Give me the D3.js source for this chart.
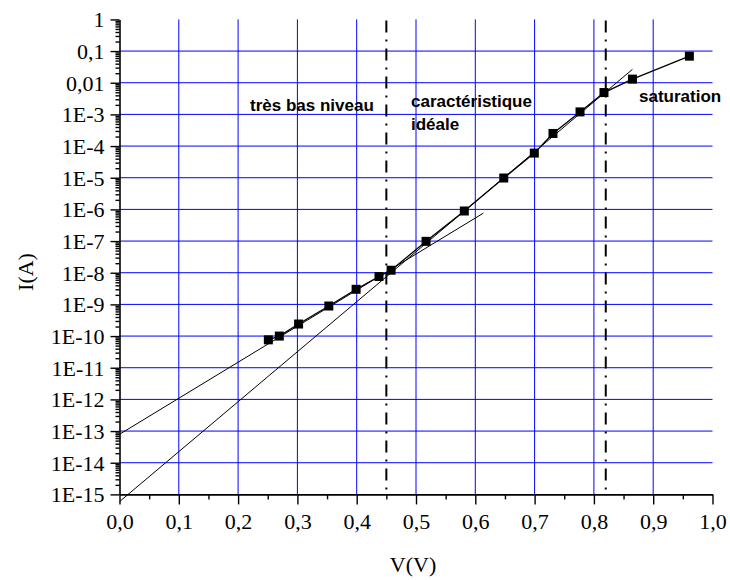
<!DOCTYPE html>
<html><head><meta charset="utf-8">
<script src="https://cdn.jsdelivr.net/npm/d3@7"></script>
<style>body{margin:0;background:#fff}svg{display:block}</style>
</head><body>
<svg id="chart" width="730" height="580"></svg>
<script>
// ---- data ----
const voltage = [0.251, 0.2695, 0.302, 0.353, 0.399, 0.4376, 0.458, 0.517, 0.5815, 0.648, 0.6995, 0.731, 0.7766, 0.817, 0.865, 0.961];
const current = [7.6e-11, 1.0e-10, 2.4e-10, 8.9e-10, 3.0e-9, 7.6e-9, 1.2e-8, 9.8e-8, 8.9e-7, 9.8e-6, 6.0e-5, 2.5e-4, 1.2e-3, 4.9e-3, 1.3e-2, 6.9e-2];
const fitLowV = [0, 0.6135];
const fitLowI = [7.9e-14, 7.6e-7];
const fitIdealV = [0, 0.865];
const fitIdealI = [5.9e-16, 2.65e-2];
const regionBounds = [0.45, 0.82];
const xTicks = [0,0.1,0.2,0.3,0.4,0.5,0.6,0.7,0.8,0.9,1.0];
const xTickLabels = ["0,0","0,1","0,2","0,3","0,4","0,5","0,6","0,7","0,8","0,9","1,0"];
const yTicks = [1,1e-1,1e-2,1e-3,1e-4,1e-5,1e-6,1e-7,1e-8,1e-9,1e-10,1e-11,1e-12,1e-13,1e-14,1e-15];
const yTickLabels = ["1","0,1","0,01","1E-3","1E-4","1E-5","1E-6","1E-7","1E-8","1E-9","1E-10","1E-11","1E-12","1E-13","1E-14","1E-15"];
const regionLabels = ["très bas niveau", "caractéristique", "idéale", "saturation"];
const xTitle = "V(V)", yTitle = "I(A)";

// ---- layout ----
const svg = d3.select("#chart");
const X0 = 119.5, X1 = 712.5, Y0 = 494.4, Y1 = 19.4;
const x = d3.scaleLinear().domain([0, 1]).range([X0, X1]);
const y = d3.scaleLog().domain([1e-15, 1]).range([Y0, Y1]);
const serif = "'Liberation Serif', 'Times New Roman', serif";
const sans = "'Liberation Sans', Arial, Helvetica, sans-serif";

// grid
const g = svg.append("g");
g.selectAll("line.h").data(yTicks.filter(d => d < 1 && d > 1e-15)).join("line")
  .attr("x1", X0).attr("x2", X1).attr("y1", d => y(d)).attr("y2", d => y(d))
  .attr("stroke", "#0000ff").attr("stroke-width", 1);
g.selectAll("line.v").data(xTicks.filter(d => d > 0 && d < 1)).join("line")
  .attr("x1", d => x(d)).attr("x2", d => x(d)).attr("y1", Y1).attr("y2", Y0)
  .attr("stroke", "#0000ff").attr("stroke-width", 1);

// minor tick values
const yMinor = [];
for (let e = -15; e < 0; e++) for (let m = 2; m <= 9; m++) yMinor.push(m * Math.pow(10, e));
const xMinor = d3.range(0.05, 1, 0.1);

// axes
const yAxis = svg.append("g").attr("transform", `translate(${X0},0)`)
  .call(d3.axisLeft(y).tickValues(yTicks).tickSize(9).tickSizeOuter(0).tickPadding(6)
    .tickFormat((d, i) => yTickLabels[i]));
svg.append("g").attr("transform", `translate(${X0},0)`)
  .call(d3.axisLeft(y).tickValues(yMinor).tickSize(4).tickSizeOuter(0).tickFormat(""))
  .select(".domain").remove();
const xAxis = svg.append("g").attr("transform", `translate(0,${Y0})`)
  .call(d3.axisBottom(x).tickValues(xTicks).tickSize(10).tickSizeOuter(0).tickPadding(8)
    .tickFormat((d, i) => xTickLabels[i]));
svg.append("g").attr("transform", `translate(0,${Y0})`)
  .call(d3.axisBottom(x).tickValues(xMinor).tickSize(5).tickSizeOuter(0).tickFormat(""))
  .select(".domain").remove();
svg.selectAll("g").attr("font-family", null);
svg.selectAll(".domain").attr("stroke", "#000").attr("stroke-width", 1.6);
svg.selectAll(".tick line").attr("stroke", "#000").attr("stroke-width", 1.4);
svg.selectAll(".tick text").style("font-family", serif).style("font-size", "22px").attr("fill", "#000");
yAxis.selectAll(".tick text").attr("dy", "0.34em");
xAxis.selectAll(".tick text").attr("dy", "0.75em");

// region separators
svg.selectAll("line.sep").data(regionBounds).join("line")
  .attr("x1", d => x(d)).attr("x2", d => x(d)).attr("y1", Y1 + 1).attr("y2", Y0 - 1)
  .attr("stroke", "#000").attr("stroke-width", 2).attr("stroke-dasharray", "12,7,2,7");

// fit lines
const lineGen = d3.line().x(d => x(d[0])).y(d => y(d[1]));
svg.append("path").attr("d", lineGen(d3.zip(fitLowV, fitLowI)))
  .attr("fill", "none").attr("stroke", "#000").attr("stroke-width", 1);
svg.append("path").attr("d", lineGen(d3.zip(fitIdealV, fitIdealI)))
  .attr("fill", "none").attr("stroke", "#000").attr("stroke-width", 1);

// data polyline
const pts = d3.zip(voltage, current);
svg.append("path").attr("d", lineGen(pts))
  .attr("fill", "none").attr("stroke", "#000").attr("stroke-width", 1.3);
// markers
svg.selectAll("rect.pt").data(pts).join("rect")
  .attr("x", d => x(d[0]) - 4.5).attr("y", d => y(d[1]) - 4.5)
  .attr("width", 9).attr("height", 9).attr("fill", "#000");

// region labels
const lab = svg.append("g").style("font-family", sans).style("font-weight", "bold")
  .style("font-size", "17px").attr("fill", "#000");
lab.append("text").attr("x", 250).attr("y", 111).text(regionLabels[0]);
lab.append("text").attr("x", 411).attr("y", 107).text(regionLabels[1]);
lab.append("text").attr("x", 411).attr("y", 130).text(regionLabels[2]);
lab.append("text").attr("x", 639).attr("y", 102).text(regionLabels[3]);

// axis titles
svg.append("text").attr("x", (X0 + X1) / 2 - 3).attr("y", 572).attr("text-anchor", "middle")
  .style("font-family", serif).style("font-size", "22px").text(xTitle);
svg.append("text").attr("transform", "translate(33,272) rotate(-90)").attr("text-anchor", "middle")
  .style("font-family", serif).style("font-size", "22px").text(yTitle);
</script>
</body></html>
